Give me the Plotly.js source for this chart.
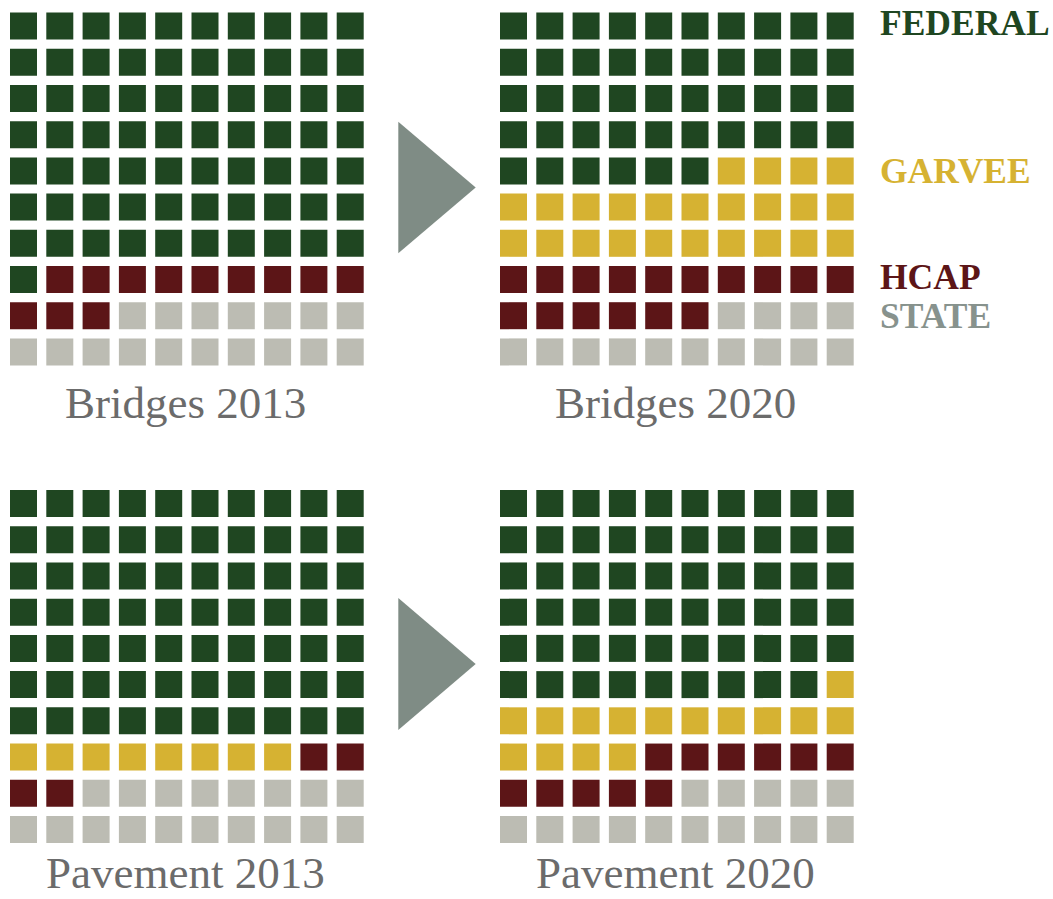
<!DOCTYPE html>
<html>
<head>
<meta charset="utf-8">
<script src="https://cdn.plot.ly/plotly-3.0.1.min.js"></script>
<style>html,body{margin:0;padding:0;background:#fff;}#chart{width:1053px;height:899px;}</style>
</head>
<body>
<div id="chart"></div>
<script>
// ---- data ----
var categories = ['FEDERAL', 'GARVEE', 'HCAP', 'STATE'];
var colors = ['#1f4621', '#d6b232', '#5c1517', '#bcbcb3'];
var labelColors = ['#1f4621', '#d6b232', '#5c1517', '#87928d'];
var panelTitles = ['Bridges 2013', 'Bridges 2020', 'Pavement 2013', 'Pavement 2020'];
var bridges2013 = [71, 0, 12, 17];
var bridges2020 = [46, 24, 16, 14];
var pavement2013 = [70, 8, 4, 18];
var pavement2020 = [59, 15, 11, 15];
var panels = [bridges2013, bridges2020, pavement2013, pavement2020];

// ---- layout geometry (pixels) ----
var W = 1053, H = 899;
var colDomains = [[5.35 / W, 368.35 / W], [495.35 / W, 858.35 / W]];
var rowDomains = [[1 - 370.0 / H, 1 - 8.0 / H], [1 - 847.6 / H, 1 - 485.4 / H]];

var traces = [];
var layout = {
  width: W, height: H,
  margin: {l: 0, r: 0, t: 0, b: 0},
  paper_bgcolor: '#ffffff', plot_bgcolor: 'rgba(0,0,0,0)',
  showlegend: false,
  annotations: [],
  shapes: []
};

panels.forEach(function (vals, p) {
  var ax = p === 0 ? '' : String(p + 1);
  var xa = 'xaxis' + ax, ya = 'yaxis' + ax;
  var colIdx = p % 2, rowIdx = Math.floor(p / 2);
  layout[xa] = {domain: colDomains[colIdx], range: [-0.5, 9.5], visible: false, fixedrange: true};
  layout[ya] = {domain: rowDomains[rowIdx], range: [9.5, -0.5], visible: false, fixedrange: true};
  var k = 0;
  vals.forEach(function (n, c) {
    var xs = [], ys = [];
    for (var i = 0; i < n; i++, k++) { xs.push(k % 10); ys.push(Math.floor(k / 10)); }
    traces.push({
      type: 'scatter', mode: 'markers', x: xs, y: ys,
      xaxis: 'x' + ax, yaxis: 'y' + ax, name: categories[c],
      marker: {symbol: 'square', size: 27, color: colors[c], line: {width: 0}},
      hoverinfo: 'name'
    });
  });
  var cx = (colDomains[colIdx][0] + colDomains[colIdx][1]) / 2;
  var ann = {
    xref: 'paper', yref: 'paper', x: cx - 0.0015,
    xanchor: 'center', showarrow: false, borderpad: 0,
    text: panelTitles[p],
    font: {family: 'Liberation Serif, Times New Roman, serif', size: 45, color: '#6b6b6b'}
  };
  if (rowIdx === 0) { ann.y = 1 - 403 / H; ann.yanchor = 'middle'; }
  else { ann.y = 0; ann.yanchor = 'bottom'; }
  layout.annotations.push(ann);
});

// legend labels
var labelY = [23, 171, 277, 316];
categories.forEach(function (c, i) {
  layout.annotations.push({
    xref: 'paper', yref: 'paper', x: 878 / W, y: 1 - labelY[i] / H,
    xanchor: 'left', yanchor: 'middle', showarrow: false,
    text: '<b>' + c + '</b>',
    font: {family: 'Liberation Serif, Times New Roman, serif', size: 35.5, color: labelColors[i]}
  });
});

// arrows
[[121.7, 253.3], [598, 730]].forEach(function (a) {
  var mid = (a[0] + a[1]) / 2;
  layout.shapes.push({
    type: 'path', xref: 'paper', yref: 'paper',
    path: 'M ' + (398.3 / W) + ' ' + (1 - a[0] / H) + ' L ' + (475.7 / W) + ' ' + (1 - mid / H) +
          ' L ' + (398.3 / W) + ' ' + (1 - a[1] / H) + ' Z',
    fillcolor: '#7f8c85', line: {width: 0}
  });
});

Plotly.newPlot('chart', traces, layout, {displayModeBar: false, staticPlot: true});
</script>
</body>
</html>
